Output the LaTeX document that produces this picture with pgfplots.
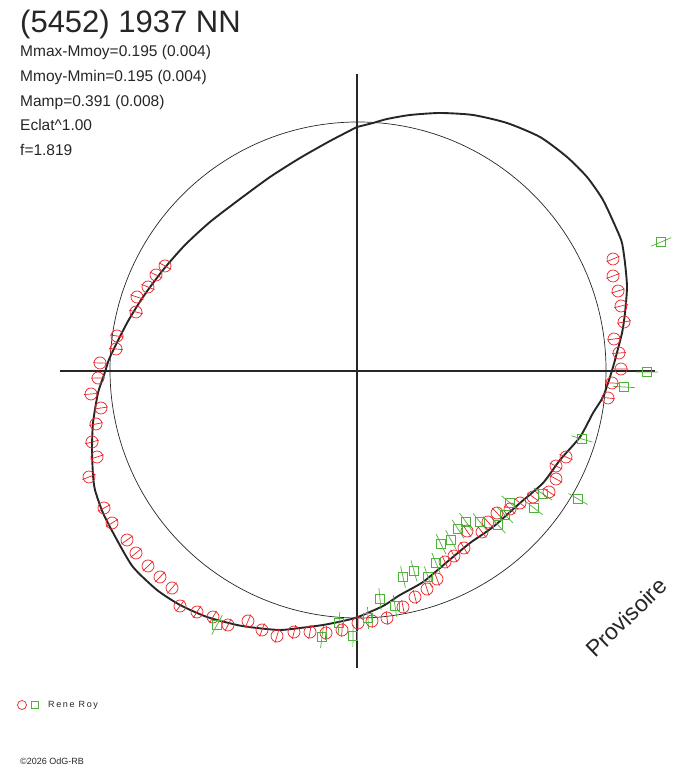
\documentclass[border=0pt]{standalone}
\usepackage{pgfplots}
\usepackage{pgfplotstable}
\pgfplotsset{compat=1.18}
\usepackage{fontspec}
\setmainfont{Liberation Sans}
\newfontfamily\spaced[LetterSpace=18]{Liberation Sans}
\definecolor{obsred}{RGB}{232,34,40}
\definecolor{obsgreen}{RGB}{78,178,58}
\definecolor{ink}{RGB}{38,38,38}

\pgfplotstableread{
x y
0 244
16 248
30 252
53 256
83 258
116 256
150 248
183 234
210 214
230 194
246 171
260 141
265 128
268 108
270 84
268 58
265 38
258 11
253 -6
246 -26
236 -42
223 -66
203 -89
186 -112
163 -132
136 -156
113 -172
90 -191
66 -211
43 -224
26 -235
1 -246
-14 -250
-34 -254
-57 -257
-77 -259
-100 -257
-120 -254
-150 -246
-177 -234
-200 -219
-224 -196
-240 -169
-254 -142
-262 -119
-264 -104
-265 -79
-264 -52
-259 -22
-252 -1
-247 14
-230 48
-214 74
-194 101
-172 126
-147 149
-117 172
-87 194
-57 213
-27 230
0 244
}\lightcurve

\pgfplotstableread{
x y
-192 105
-201 96
-209 84
-220 74
-221 59
-240 35
-241 22
-257 8
-259 -7
-266 -23
-256 -37
-261 -53
-265 -71
-260 -86
-268 -106
-253 -137
-245 -152
-230 -169
-221 -182
-209 -195
-197 -206
-185 -217
-177 -235
-160 -241
-144 -246
-129 -254
-109 -250
-95 -259
-80 -265
-63 -261
-47 -261
-31 -262
-15 -259
1 -252
15 -250
30 -247
46 -236
58 -226
70 -218
80 -208
88 -191
97 -185
107 -177
110 -160
125 -161
131 -151
140 -142
153 -138
163 -132
176 -126
192 -121
199 -108
199 -95
209 -86
251 -27
255 -12
264 2
262 18
257 32
267 49
264 65
261 80
256 95
256 112
}\redobs

\pgfplotstableread{
x y
-140 -254
-35 -266
-18 -252
-4 -265
11 -247
23 -228
38 -235
46 -206
57 -200
71 -206
79 -192
84 -173
94 -169
101 -158
109 -151
123 -151
141 -154
148 -144
153 -132
177 -137
186 -123
221 -128
225 -68
267 -16
290 -1
304 129
}\greenobs

\begin{document}
\begin{tikzpicture}
\begin{axis}[
  width=688pt, height=768pt, scale only axis,
  xmin=-357, xmax=331, ymin=-397, ymax=371,
  hide axis, clip=false,
]
\path (rel axis cs:0,0) rectangle (rel axis cs:1,1);
% axes cross
\addplot[ink, line width=1.1pt] coordinates {(-297,0) (298,0)};
\addplot[ink, line width=1.1pt] coordinates {(0,-297) (0,297)};
% reference circle
\draw[ink, line width=0.7pt] (axis cs:1,1) circle[radius=248];
% light curve
\addplot[ink, line width=1.9pt, smooth, tension=0.4] table {\lightcurve};
% observations: radial error bars
\addplot[obsred, line width=0.7pt, quiver={u={7*\thisrow{x}/veclen(\thisrow{x},\thisrow{y})}, v={7*\thisrow{y}/veclen(\thisrow{x},\thisrow{y})}}] table {\redobs};
\addplot[obsred, line width=0.7pt, quiver={u={-7*\thisrow{x}/veclen(\thisrow{x},\thisrow{y})}, v={-7*\thisrow{y}/veclen(\thisrow{x},\thisrow{y})}}] table {\redobs};
\addplot[obsred, line width=0.7pt, only marks, mark=o, mark size=6pt] table {\redobs};
\addplot[obsgreen, line width=0.7pt, quiver={u={11*\thisrow{x}/veclen(\thisrow{x},\thisrow{y})}, v={11*\thisrow{y}/veclen(\thisrow{x},\thisrow{y})}}] table {\greenobs};
\addplot[obsgreen, line width=0.7pt, quiver={u={-11*\thisrow{x}/veclen(\thisrow{x},\thisrow{y})}, v={-11*\thisrow{y}/veclen(\thisrow{x},\thisrow{y})}}] table {\greenobs};
\addplot[obsgreen, line width=0.7pt, only marks, mark=square, mark size=4.5pt] table {\greenobs};
% legend
\addplot[obsred, line width=0.7pt, only marks, mark=o, mark size=4.5pt] coordinates {(-335,-334)};
\addplot[obsgreen, line width=0.7pt, only marks, mark=square, mark size=3.5pt] coordinates {(-322,-334)};
\node[anchor=base west, text=ink, font=\spaced\fontsize{9}{10}\selectfont, inner sep=0pt] at (axis cs:-309,-337) {Rene Roy};
\node[anchor=base west, text=ink, font=\fontsize{9}{10}\selectfont, inner sep=0pt] at (axis cs:-337,-394) {\textcopyright2026 OdG-RB};
% texts
\node[anchor=base west, text=ink, font=\fontsize{31}{34}\selectfont, inner sep=0pt] at (axis cs:-337,338) {(5452) 1937 NN};
\node[anchor=base west, text=ink, font=\fontsize{15.5}{17}\selectfont, inner sep=0pt] at (axis cs:-337,314) {Mmax-Mmoy=0.195 (0.004)};
\node[anchor=base west, text=ink, font=\fontsize{15.5}{17}\selectfont, inner sep=0pt] at (axis cs:-337,289) {Mmoy-Mmin=0.195 (0.004)};
\node[anchor=base west, text=ink, font=\fontsize{15.5}{17}\selectfont, inner sep=0pt] at (axis cs:-337,264) {Mamp=0.391 (0.008)};
\node[anchor=base west, text=ink, font=\fontsize{15.5}{17}\selectfont, inner sep=0pt] at (axis cs:-337,240) {Eclat\^{}1.00};
\node[anchor=base west, text=ink, font=\fontsize{15.5}{17}\selectfont, inner sep=0pt] at (axis cs:-337,215) {f=1.819};
\node[anchor=base west, text=ink, font=\fontsize{23}{25}\selectfont, inner sep=0pt, rotate=44] at (axis cs:238,-288) {Provisoire};
\end{axis}
\end{tikzpicture}
\end{document}
